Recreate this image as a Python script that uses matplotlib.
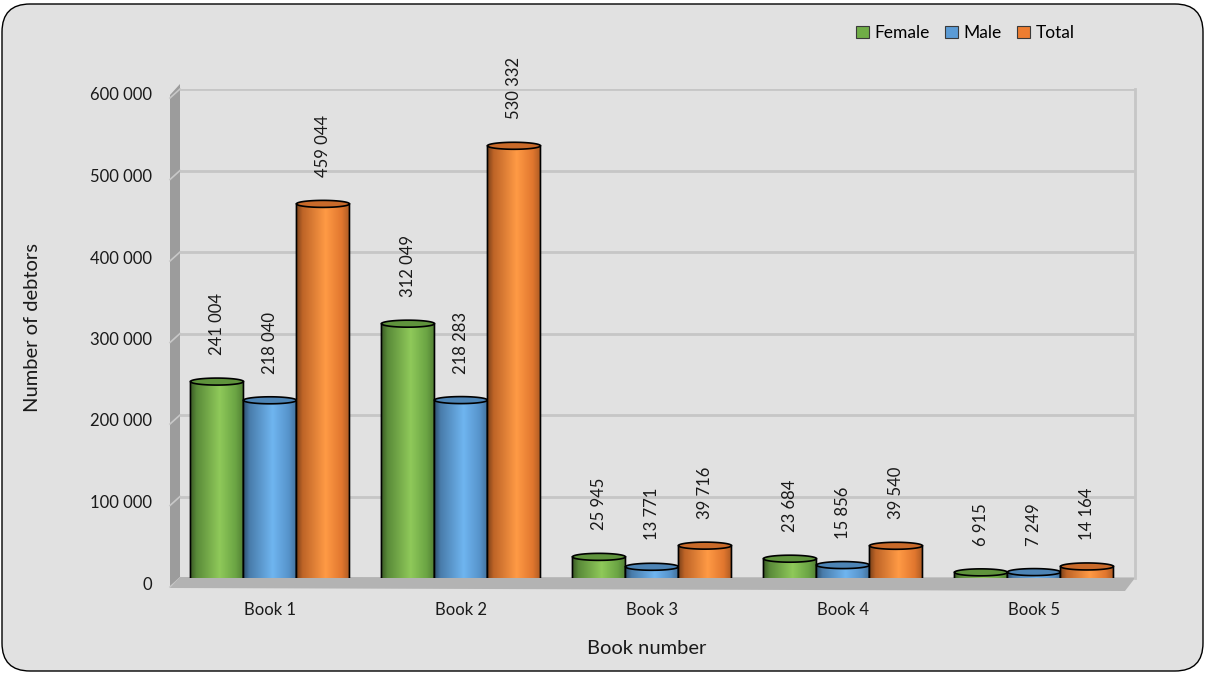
import matplotlib
matplotlib.use("Agg")
import matplotlib.pyplot as plt
import numpy as np
from matplotlib.patches import FancyBboxPatch, PathPatch, Patch, Polygon
from matplotlib.path import Path
from matplotlib.colors import to_rgb
from matplotlib.transforms import ScaledTranslation, IdentityTransform

plt.rcParams["font.family"] = ["Lato", "DejaVu Sans"]

books = ["Book 1", "Book 2", "Book 3", "Book 4", "Book 5"]
female = [241004, 312049, 25945, 23684, 6915]
male = [218040, 218283, 13771, 15856, 7249]
total = [459044, 530332, 39716, 39540, 14164]
series_names = ["Female", "Male", "Total"]
colors = ["#70ad47", "#5b9bd5", "#ed7d31"]
highlights = ["#8fc95a", "#6fb5f0", "#ff9a45"]

W, H = 1205, 673
fig = plt.figure(figsize=(W / 100, H / 100), dpi=100)
fig.patch.set_facecolor("white")

# rounded chart frame
frame = FancyBboxPatch((2, 2), W - 4, H - 6, boxstyle="round,pad=0,rounding_size=28",
                       transform=IdentityTransform(), facecolor="#e1e1e1",
                       edgecolor="black", linewidth=1.0, zorder=-10)
fig.patches.append(frame)

# back wall of the plot area (pixel layout)
L, R, TOP, BOT = 180, 1135, 89, 578
ax = fig.add_axes([L / W, (H - BOT) / H, (R - L) / W, (BOT - TOP) / H])
ax.set_facecolor("none")
ymax = 600000
x0 = -0.471


def px(x, y):
    """pixel position (top origin) -> axes fraction"""
    return ((x - L) / (R - L), (BOT - y) / (BOT - TOP))


for s in ["top", "left", "bottom"]:
    ax.spines[s].set_visible(False)
ax.spines["right"].set_color("#c6c6c6")
ax.spines["right"].set_linewidth(2)
ax.set_axisbelow(True)
ax.yaxis.grid(True, color="#c6c6c6", linewidth=2)

# left wall and floor
wall = Polygon([px(170, 95), px(180, 84), px(180, 577), px(170, 588)], closed=True,
               transform=ax.transAxes, facecolor="#9c9c9c", edgecolor="none",
               clip_on=False, zorder=0)
ax.add_patch(wall)
for v in range(0, ymax + 1, 100000):
    yp = BOT - v * (BOT - TOP) / ymax
    ax.plot(*zip(px(170, yp + 9), px(180, yp)), transform=ax.transAxes,
            color="#c8c8c8", lw=1.2, clip_on=False, zorder=0.5)
floor = Polygon([px(180, 577), px(1135, 578), px(1125, 591), px(170, 588)], closed=True,
                transform=ax.transAxes, facecolor="#b3b3b3", edgecolor="none",
                clip_on=False, zorder=0.8)
ax.add_patch(floor)

# cylinder geometry
width = 0.2775
offsets = [-width, 0, width]
ell = 3.5 * ymax / (BOT - TOP)  # half-height of the ellipses in data units


def shade(base, hi):
    b = np.array(to_rgb(base))
    h = np.array(to_rgb(hi))
    stops = [0.0, 0.12, 0.55, 0.85, 1.0]
    cols = [b * 0.5, b * 0.8, h, b * 0.95, b * 0.72]
    t = np.linspace(0, 1, 200)
    rgb = np.stack([np.interp(t, stops, [c[i] for c in cols]) for i in range(3)], axis=-1)
    return rgb[np.newaxis, :, :]


def cylinder(cx, h, base, hi, z):
    xa, xb = cx - width / 2, cx + width / 2
    rx = width / 2
    th = np.linspace(np.pi, 2 * np.pi, 40)
    arc = np.column_stack([cx + rx * np.cos(th), ell * np.sin(th)])
    verts = np.vstack([[xa, h], arc, [xb, h], [xa, h]])
    codes = [Path.MOVETO] + [Path.LINETO] * (len(verts) - 2) + [Path.CLOSEPOLY]
    body = PathPatch(Path(verts, codes), facecolor="none", edgecolor="none")
    ax.add_patch(body)
    im = ax.imshow(shade(base, hi), extent=[xa, xb, -ell, h], aspect="auto",
                   interpolation="bilinear", zorder=z)
    im.set_clip_path(body)
    outline = np.vstack([[xa, h], arc, [xb, h]])
    ax.plot(outline[:, 0], outline[:, 1], color="black", lw=1.2, zorder=z + 0.1,
            solid_joinstyle="round")
    tt = np.linspace(0, 2 * np.pi, 80)
    top = Polygon(np.column_stack([cx + rx * np.cos(tt), h + ell * np.sin(tt)]),
                  closed=True, facecolor=np.array(to_rgb(base)) * 0.85,
                  edgecolor="black", linewidth=1.2, zorder=z + 0.2)
    ax.add_patch(top)


def fmt(v):
    return f"{v:,}".replace(",", " ")


for k, (vals, base, hi) in enumerate(zip([female, male, total], colors, highlights)):
    for i, v in enumerate(vals):
        cx = i + offsets[k]
        cylinder(cx, v, base, hi, 2 + k)
        ax.annotate(fmt(v), (cx, v), xytext=(0, 19), textcoords="offset points",
                    rotation=90, ha="center", va="bottom", fontsize=12,
                    color="#1a1a1a", zorder=10)

ax.set_xlim(x0, x0 + 5)
ax.set_ylim(0, ymax)

ax.set_xticks(range(len(books)))
ax.set_xticklabels(books, fontsize=12, color="#1a1a1a")
ax.tick_params(axis="x", length=0, pad=17)
yt = list(range(0, ymax + 1, 100000))
ax.set_yticks(yt)
ax.set_yticklabels([fmt(v) for v in yt], fontsize=12, color="#1a1a1a")
ax.tick_params(axis="y", length=0, pad=20)
for lbl in ax.get_yticklabels():
    lbl.set_transform(lbl.get_transform() + ScaledTranslation(0, -5 / 100, fig.dpi_scale_trans))

fig.text(647 / W, 1 - 649 / H, "Book number", ha="center", va="center",
         fontsize=14.5, color="#1a1a1a")
fig.text(33 / W, 1 - 327 / H, "Number of debtors", ha="center", va="center",
         rotation=90, fontsize=14.5, color="#1a1a1a")

handles = [Patch(facecolor=c, edgecolor="#3a3a3a", linewidth=0.8) for c in colors]
fig.legend(handles, series_names, loc="center", bbox_to_anchor=(965 / W, 1 - 33 / H),
           ncol=3, frameon=False, fontsize=12.5, handlelength=0.75, handleheight=0.75,
           handletextpad=0.3, columnspacing=0.9)

fig.savefig("out.png", dpi=100)
